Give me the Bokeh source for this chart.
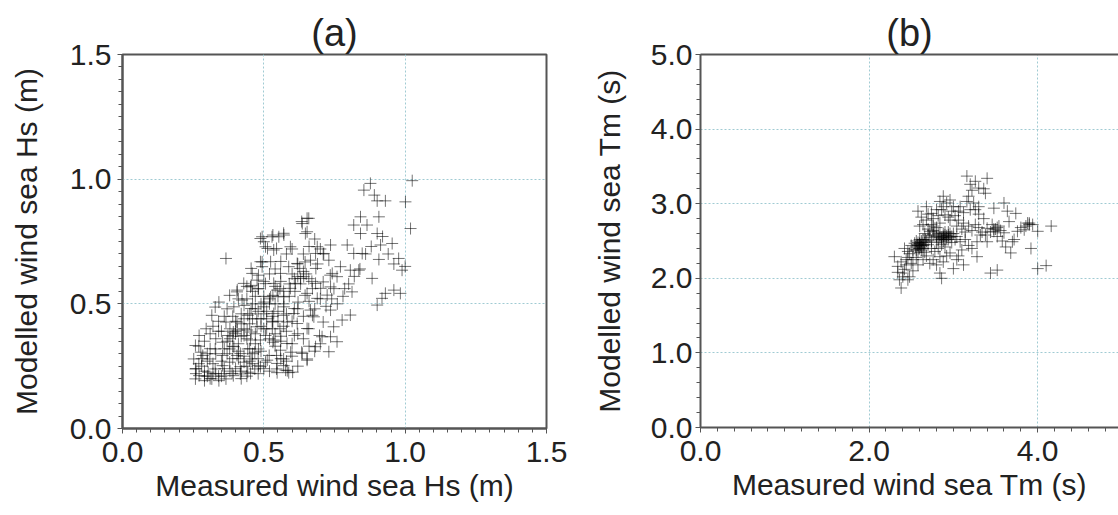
from bokeh.plotting import figure
from bokeh.layouts import row
from bokeh.models import Range1d, SingleIntervalTicker, LinearAxis, FixedTicker, PrintfTickFormatter
from bokeh.embed import file_html
from bokeh.resources import INLINE

# ---------------- data ----------------
titles = ["(a)", "(b)"]
x_labels = ["Measured wind sea Hs (m)", "Measured wind sea Tm (s)"]
y_labels = ["Modelled wind sea Hs (m)", "Modelled wind sea Tm (s)"]

hs_measured = [
    1.025, 0.877, 0.854, 0.891, 0.901, 0.930, 1.001, 1.019, 0.907, 0.842, 0.818, 0.865, 0.842, 0.901, 0.954,
    0.913, 0.795, 0.818, 0.848, 0.977, 0.907, 0.989, 0.883, 0.836, 0.806, 0.771, 0.983, 0.960, 0.930, 0.918,
    0.901, 0.812, 0.806, 0.777, 0.736,
    0.653, 0.636, 0.647, 0.553, 0.529, 0.571, 0.506, 0.535, 0.594, 0.488, 0.689, 0.736, 0.712, 0.683, 0.665,
    0.730, 0.618, 0.588, 0.559, 0.488, 0.524, 0.494, 0.459, 0.476, 0.453, 0.630, 0.641, 0.612, 0.594, 0.683,
    0.701, 0.736, 0.759, 0.742, 0.653, 0.689, 0.724, 0.535, 0.547, 0.524, 0.571, 0.429, 0.406, 0.423, 0.394,
    0.500, 0.535, 0.571, 0.606, 0.665, 0.677, 0.618, 0.653, 0.747, 0.706, 0.736, 0.759, 0.683, 0.730, 0.636,
    0.653, 0.535, 0.582, 0.559, 0.476, 0.441, 0.453, 0.488, 0.406, 0.394, 0.417, 0.547, 0.577, 0.547, 0.588,
    0.512, 0.488, 0.453, 0.417, 0.388,
    0.366, 0.328, 0.316, 0.296, 0.271, 0.258, 0.277, 0.252, 0.258, 0.271, 0.258, 0.290, 0.316, 0.341, 0.366,
    0.392, 0.417, 0.443, 0.468, 0.303, 0.328, 0.354, 0.379, 0.284, 0.309, 0.328, 0.354, 0.373, 0.392, 0.366,
    0.405, 0.430, 0.455, 0.443, 0.468, 0.405, 0.430, 0.455, 0.481, 0.379, 0.354, 0.341, 0.379, 0.405, 0.455,
    0.481, 0.506, 0.430, 0.455, 0.443, 0.475, 0.500, 0.532, 0.557, 0.506, 0.532, 0.519, 0.481, 0.506, 0.545,
    0.570, 0.583, 0.602, 0.545, 0.570, 0.595, 0.532, 0.557, 0.583, 0.570, 0.608, 0.621, 0.646, 0.608, 0.627,
    0.646, 0.659, 0.684, 0.494, 0.532, 0.570, 0.545, 0.500, 0.634, 0.659, 0.653, 0.494, 0.513, 0.455, 0.481,
    0.672, 0.710, 0.735, 0.748, 0.786, 0.672, 0.659, 0.697, 0.710, 0.608, 0.634, 0.653,
    0.30, 0.32, 0.34, 0.36, 0.38, 0.40, 0.42, 0.44, 0.46, 0.28, 0.30, 0.32, 0.35, 0.37, 0.39,
    0.41, 0.43, 0.45, 0.47, 0.49, 0.27, 0.29, 0.31, 0.33, 0.35, 0.37, 0.39, 0.41, 0.43, 0.45,
    0.47, 0.49, 0.51, 0.53, 0.55, 0.57, 0.59, 0.61, 0.63, 0.65, 0.67, 0.69, 0.71, 0.52, 0.50,
    0.48, 0.46, 0.44, 0.42, 0.40, 0.38, 0.36, 0.34, 0.32, 0.54, 0.56, 0.58, 0.60, 0.62, 0.64,
    0.66, 0.68, 0.70, 0.72, 0.74, 0.76, 0.78, 0.80, 0.82, 0.84, 0.86, 0.88, 0.92, 0.94, 0.96,
    1.00, 0.50, 0.52, 0.54, 0.56, 0.58, 0.60, 0.62, 0.64, 0.66, 0.68, 0.70, 0.56, 0.58, 0.60,
    0.62, 0.48, 0.50, 0.52, 0.42, 0.44, 0.26, 0.27, 0.29, 0.33, 0.31, 0.36, 0.40, 0.42, 0.44,
    0.46, 0.48, 0.50, 0.52, 0.54, 0.56, 0.58, 0.60, 0.62, 0.64, 0.66, 0.68, 0.70, 0.47, 0.49,
    0.51, 0.53, 0.55,
    0.38, 0.40, 0.42, 0.39, 0.41, 0.36, 0.33, 0.31, 0.29, 0.35, 0.46, 0.48, 0.45, 0.52, 0.54,
    0.55, 0.50, 0.53, 0.57, 0.49, 0.47, 0.45, 0.60, 0.62, 0.64, 0.44, 0.46, 0.41, 0.37, 0.34,
    0.30, 0.28, 0.26, 0.54, 0.56, 0.57, 0.59, 0.51, 0.43, 0.39,
]
hs_modelled = [
    0.994, 0.983, 0.956, 0.936, 0.913, 0.913, 0.909, 0.802, 0.849, 0.849, 0.816, 0.816, 0.782, 0.782, 0.742,
    0.736, 0.736, 0.702, 0.702, 0.682, 0.678, 0.635, 0.602, 0.635, 0.635, 0.649, 0.542, 0.555, 0.542, 0.522,
    0.495, 0.548, 0.455, 0.435, 0.475,
    0.843, 0.822, 0.782, 0.769, 0.769, 0.776, 0.729, 0.716, 0.729, 0.762, 0.729, 0.736, 0.702, 0.702, 0.675,
    0.675, 0.662, 0.649, 0.622, 0.669, 0.669, 0.649, 0.622, 0.595, 0.568, 0.602, 0.609, 0.582, 0.562, 0.582,
    0.562, 0.568, 0.609, 0.622, 0.542, 0.522, 0.535, 0.582, 0.555, 0.528, 0.528, 0.582, 0.555, 0.515, 0.488,
    0.488, 0.461, 0.488, 0.461, 0.475, 0.448, 0.421, 0.401, 0.408, 0.368, 0.368, 0.348, 0.328, 0.308, 0.301,
    0.274, 0.355, 0.341, 0.314, 0.408, 0.395, 0.355, 0.355, 0.395, 0.328, 0.301, 0.261, 0.234, 0.224, 0.224,
    0.274, 0.248, 0.221, 0.248, 0.221,
    0.682, 0.487, 0.454, 0.400, 0.373, 0.333, 0.306, 0.279, 0.239, 0.212, 0.199, 0.192, 0.199, 0.192, 0.199,
    0.212, 0.219, 0.226, 0.239, 0.226, 0.239, 0.252, 0.266, 0.293, 0.279, 0.319, 0.346, 0.373, 0.387, 0.427,
    0.427, 0.373, 0.387, 0.319, 0.306, 0.293, 0.266, 0.279, 0.252, 0.319, 0.293, 0.507, 0.534, 0.548, 0.574,
    0.561, 0.581, 0.494, 0.481, 0.454, 0.440, 0.507, 0.534, 0.561, 0.373, 0.346, 0.293, 0.319, 0.266, 0.239,
    0.252, 0.232, 0.226, 0.293, 0.279, 0.306, 0.427, 0.400, 0.427, 0.454, 0.481, 0.507, 0.534, 0.601, 0.642,
    0.668, 0.601, 0.642, 0.769, 0.776, 0.783, 0.722, 0.749, 0.830, 0.843, 0.789, 0.668, 0.722, 0.642, 0.615,
    0.561, 0.588, 0.615, 0.561, 0.561, 0.454, 0.400, 0.373, 0.427, 0.373, 0.306, 0.279,
    0.21, 0.22, 0.21, 0.22, 0.23, 0.24, 0.23, 0.25, 0.26, 0.25, 0.27, 0.26, 0.27, 0.30, 0.28,
    0.31, 0.29, 0.32, 0.34, 0.31, 0.33, 0.35, 0.38, 0.36, 0.39, 0.35, 0.37, 0.34, 0.40, 0.42,
    0.38, 0.41, 0.44, 0.40, 0.47, 0.50, 0.53, 0.55, 0.58, 0.62, 0.59, 0.66, 0.70, 0.50, 0.53,
    0.47, 0.50, 0.52, 0.46, 0.43, 0.40, 0.45, 0.43, 0.41, 0.57, 0.59, 0.46, 0.43, 0.48, 0.45,
    0.51, 0.48, 0.52, 0.49, 0.52, 0.50, 0.53, 0.58, 0.61, 0.64, 0.70, 0.73, 0.77, 0.70, 0.66,
    0.65, 0.40, 0.36, 0.33, 0.37, 0.39, 0.34, 0.38, 0.36, 0.33, 0.31, 0.34, 0.28, 0.27, 0.29,
    0.25, 0.22, 0.24, 0.23, 0.20, 0.21, 0.22, 0.26, 0.23, 0.30, 0.32, 0.32, 0.39, 0.42, 0.36,
    0.44, 0.56, 0.59, 0.62, 0.64, 0.67, 0.70, 0.72, 0.66, 0.70, 0.73, 0.76, 0.72, 0.53, 0.50,
    0.47, 0.45, 0.43,
    0.36, 0.38, 0.37, 0.33, 0.28, 0.24, 0.22, 0.20, 0.21, 0.21, 0.30, 0.28, 0.27, 0.52, 0.50,
    0.53, 0.46, 0.43, 0.41, 0.44, 0.48, 0.46, 0.62, 0.61, 0.63, 0.57, 0.55, 0.52, 0.48, 0.39,
    0.30, 0.28, 0.24, 0.38, 0.35, 0.55, 0.58, 0.40, 0.44, 0.45,
]

tm_measured = [
    3.16, 3.26, 3.40, 3.20, 3.30, 3.38, 2.88, 2.84, 2.92, 2.58, 2.68, 2.74, 2.80, 3.16, 3.24,
    3.08, 3.20, 3.48, 3.60, 3.64, 3.74, 3.88, 3.94, 3.76, 3.84, 4.16, 4.00, 3.92, 4.10, 4.00,
    3.52, 3.44, 3.68, 3.70, 3.60, 3.54, 3.48, 3.40, 3.32, 3.28, 3.40, 3.28, 3.12, 3.00, 2.84,
    2.86, 2.30, 2.34, 2.40, 2.38, 2.48, 2.42, 2.44, 2.52, 2.60, 2.64, 2.72, 2.80, 2.88, 2.94,
    3.04, 3.08, 2.84, 2.96, 3.04, 3.12, 2.68, 2.60, 2.76, 2.96, 2.84, 3.04, 2.76,
    2.55, 2.57, 2.59, 2.61, 2.63, 2.56, 2.60, 2.62, 2.58, 2.65, 2.67, 2.54, 2.52, 2.50, 2.48,
    2.46, 2.44, 2.42, 2.40, 2.46, 2.66, 2.68, 2.70, 2.72, 2.74, 2.76, 2.78, 2.80, 2.82, 2.84,
    2.86, 2.88, 2.90, 2.92, 2.94, 2.96, 2.98, 3.00, 2.86, 2.90, 2.82, 2.78, 2.74, 2.70, 2.66,
    2.64, 2.62, 2.70, 2.76, 2.82, 2.86, 2.90, 2.94, 2.98, 3.02, 3.06, 3.10, 3.14, 3.18, 3.22,
    3.26, 3.30, 3.34, 3.38, 3.44, 3.50, 3.52, 3.56, 3.46, 3.36, 3.30, 3.26, 3.12, 3.06, 3.00,
    2.96, 2.88, 3.14, 3.18, 3.22, 3.10, 3.06, 2.92, 2.88, 2.80, 2.72, 2.64, 2.58, 2.56, 2.52,
    2.50, 2.46, 2.36, 2.34, 2.38, 3.66, 3.80, 3.86, 3.90, 3.58, 3.62, 3.72, 3.30, 3.36, 3.22,
    3.18,
    2.58, 2.60, 2.62, 2.64, 2.60, 2.56, 2.62, 2.66, 2.58, 2.64, 2.86, 2.88, 2.90, 2.92, 2.94,
    2.96, 2.90, 2.88, 2.84, 2.98, 3.02, 2.82, 2.76, 2.80, 2.74, 2.70, 2.68, 3.48, 3.52, 3.90,
]
tm_modelled = [
    3.37, 3.30, 3.34, 3.26, 3.21, 3.14, 3.10, 3.03, 3.01, 2.90, 2.96, 2.87, 2.92, 3.03, 3.01,
    2.96, 2.92, 2.94, 3.01, 2.90, 2.87, 2.74, 2.72, 2.63, 2.65, 2.70, 2.63, 2.40, 2.17, 2.13,
    2.11, 2.07, 2.34, 2.49, 2.61, 2.70, 2.63, 2.67, 2.58, 2.49, 2.49, 2.29, 2.18, 2.13, 2.07,
    2.00, 2.29, 2.16, 2.07, 1.87, 2.02, 2.40, 2.25, 2.25, 2.47, 2.40, 2.63, 2.56, 2.54, 2.52,
    2.56, 2.49, 2.74, 2.78, 2.70, 2.74, 2.78, 2.70, 2.70, 2.34, 2.29, 2.25, 2.25,
    2.42, 2.45, 2.40, 2.44, 2.48, 2.50, 2.52, 2.38, 2.35, 2.45, 2.52, 2.47, 2.38, 2.44, 2.33,
    2.28, 2.18, 2.12, 2.02, 2.36, 2.35, 2.30, 2.45, 2.55, 2.50, 2.58, 2.62, 2.48, 2.52, 2.58,
    2.55, 2.60, 2.52, 2.57, 2.62, 2.55, 2.48, 2.60, 2.45, 2.42, 2.40, 2.36, 2.40, 2.66, 2.60,
    2.72, 2.82, 2.86, 2.80, 2.84, 2.92, 2.85, 2.82, 2.90, 2.84, 2.78, 2.66, 2.62, 2.70, 2.64,
    2.72, 2.68, 2.62, 2.58, 2.62, 2.66, 2.56, 2.64, 2.72, 2.80, 2.86, 2.92, 2.88, 2.90, 2.96,
    3.05, 2.96, 2.52, 2.44, 2.40, 2.38, 2.30, 2.30, 2.22, 2.18, 2.20, 2.25, 2.18, 2.28, 2.10,
    2.20, 1.98, 1.98, 2.08, 2.22, 2.76, 2.68, 2.70, 2.74, 2.50, 2.42, 2.52, 2.96, 3.20, 3.18,
    3.10,
    2.44, 2.46, 2.42, 2.44, 2.40, 2.38, 2.50, 2.48, 2.48, 2.52, 2.52, 2.56, 2.58, 2.54, 2.58,
    2.60, 2.62, 2.50, 2.54, 2.56, 2.52, 2.60, 2.64, 2.68, 2.72, 2.58, 2.50, 2.66, 2.68, 2.72,
]

# ---------------- styling ----------------
FONT = "Liberation Sans"
AXIS_COLOR = "#555555"
GRID_COLOR = "#a0cbd3"
TEXT_COLOR = "#222222"


def style_axis(ax, interval, n_minor, label, label_standoff, tick_standoff):
    ax.ticker = SingleIntervalTicker(interval=interval, num_minor_ticks=n_minor)
    ax.formatter = PrintfTickFormatter(format="%.1f")
    ax.axis_label = label
    ax.axis_label_text_font = FONT
    ax.axis_label_text_font_size = "30px"
    ax.axis_label_text_font_style = "normal"
    ax.axis_label_text_color = TEXT_COLOR
    ax.axis_label_standoff = label_standoff
    ax.major_label_text_font = FONT
    ax.major_label_text_font_size = "30px"
    ax.major_label_text_color = TEXT_COLOR
    ax.major_label_standoff = tick_standoff
    ax.axis_line_color = AXIS_COLOR
    ax.axis_line_width = 2
    ax.major_tick_line_color = AXIS_COLOR
    ax.minor_tick_line_color = AXIS_COLOR
    ax.major_tick_in = 0
    ax.major_tick_out = 5
    ax.minor_tick_in = 0
    ax.minor_tick_out = 4


def make_panel(title, xs, ys, xr, yr, xint, xminor, yint, yminor, xlab, ylab,
               left, right, top, bottom, fw, fh, ystd, ylabstd, full_frame):
    p = figure(output_backend="svg", toolbar_location=None,
               x_range=Range1d(*xr), y_range=Range1d(*yr),
               frame_width=fw, frame_height=fh,
               min_border_left=left, min_border_right=right,
               min_border_top=top, min_border_bottom=bottom,
               background_fill_color="white", border_fill_color="white")
    p.title.text = title
    p.title.text_font = FONT
    p.title.text_font_size = "38px"
    p.title.text_font_style = "normal"
    p.title.text_color = TEXT_COLOR
    p.title.align = "center"
    p.title.standoff = 2
    style_axis(p.xaxis[0], xint, xminor, xlab, 4, 8)
    style_axis(p.yaxis[0], yint, yminor, ylab, ylabstd, ystd)
    for g in (p.xgrid[0], p.ygrid[0]):
        g.grid_line_color = GRID_COLOR
        g.grid_line_dash = "2 2"
        g.grid_line_width = 1
    if full_frame:
        p.outline_line_color = AXIS_COLOR
        p.outline_line_width = 2
        p.outline_line_alpha = 1
    else:
        p.outline_line_color = None
        top_ax = LinearAxis(ticker=FixedTicker(ticks=[]), axis_line_color=AXIS_COLOR,
                            axis_line_width=2, major_tick_line_color=None,
                            minor_tick_line_color=None, major_label_text_font_size="0px")
        p.add_layout(top_ax, "above")
    p.scatter(xs, ys, marker="cross", size=12, line_color="black",
              line_alpha=0.55, line_width=1)
    return p


pa = make_panel(titles[0], hs_measured, hs_modelled, (0, 1.5), (0, 1.5),
                0.5, 10, 0.5, 10, x_labels[0], y_labels[0],
                left=122, right=29, top=51, bottom=90, fw=424, fh=374,
                ystd=6, ylabstd=24, full_frame=True)
pb = make_panel(titles[1], tm_measured, tm_modelled, (0, 418 / 84.3), (0, 5.0),
                2.0, 10, 1.0, 5, x_labels[1], y_labels[1],
                left=125, right=0, top=54, bottom=88, fw=418, fh=373,
                ystd=3, ylabstd=22, full_frame=False)

layout = row(pa, pb)
open("out.html", "w").write(file_html(layout, INLINE))
